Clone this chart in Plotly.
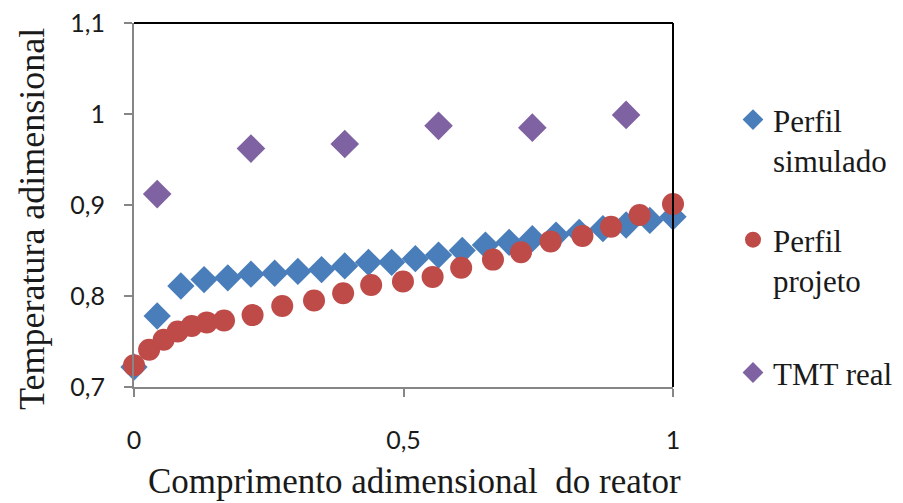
import plotly.graph_objects as go

# ---- data ----
sim_x = [0, 0.043, 0.087, 0.130, 0.174, 0.217, 0.261, 0.304, 0.348, 0.391, 0.435, 0.478,
         0.522, 0.565, 0.609, 0.652, 0.696, 0.739, 0.783, 0.826, 0.870, 0.913, 0.957, 1.0]
sim_y = [0.722, 0.778, 0.811, 0.818, 0.820, 0.824, 0.825, 0.827, 0.829, 0.833, 0.837, 0.837,
         0.841, 0.845, 0.850, 0.856, 0.859, 0.863, 0.867, 0.870, 0.874, 0.878, 0.883, 0.887]

proj_x = [0, 0.028, 0.055, 0.081, 0.107, 0.135, 0.167, 0.220, 0.275, 0.334, 0.388, 0.440,
          0.499, 0.554, 0.607, 0.666, 0.718, 0.773, 0.832, 0.885, 0.938, 1.0]
proj_y = [0.724, 0.741, 0.752, 0.761, 0.767, 0.771, 0.773, 0.779, 0.789, 0.795, 0.803, 0.812,
          0.816, 0.821, 0.831, 0.840, 0.848, 0.860, 0.866, 0.876, 0.889, 0.901]

tmt_x = [0.043, 0.217, 0.391, 0.565, 0.739, 0.913]
tmt_y = [0.912, 0.962, 0.967, 0.987, 0.985, 0.999]

names = ["Perfil<br>simulado", "Perfil<br>projeto", "TMT real"]
x_title = "Comprimento adimensional\u00a0\u00a0do reator"
y_title = "Temperatura adimensional"

BLUE = "#4A7EBB"
RED = "#BE4B48"
PURPLE = "#7F62A1"
SERIF = "Liberation Serif, Times New Roman, serif"
SANS = "Lato, Carlito, Calibri, sans-serif"
TXT = "#1a1a1a"

fig = go.Figure()
fig.add_trace(go.Scatter(x=sim_x, y=sim_y, mode="markers", name=names[0], legend="legend",
                         marker=dict(symbol="diamond", size=21, color=BLUE, line=dict(width=0)),
                         cliponaxis=False))
fig.add_trace(go.Scatter(x=proj_x, y=proj_y, mode="markers", name=names[1], legend="legend2",
                         marker=dict(symbol="circle", size=22, color=RED, line=dict(width=0)),
                         cliponaxis=False))
fig.add_trace(go.Scatter(x=tmt_x, y=tmt_y, mode="markers", name=names[2], legend="legend3",
                         marker=dict(symbol="diamond", size=22, color=PURPLE, line=dict(width=0)),
                         cliponaxis=False))

axis_common = dict(showgrid=False, zeroline=False, showline=True, linecolor="#868686", linewidth=2,
                   ticks="outside", ticklen=8, tickwidth=2, tickcolor="#868686",
                   tickfont=dict(family=SANS, size=25, color=TXT))

DOM = 539 / 769  # plot width fraction of paper (paper = 903 - 134)
fig.update_xaxes(range=[0, 1], dtick=0.5, tick0=0, ticklabelstandoff=22, domain=[0, DOM],
                 **axis_common)
fig.update_yaxes(range=[0.7, 1.1], dtick=0.1, tick0=0.7, ticklabelstandoff=14, **axis_common)

LEG_X = (733 - 134) / 769
leg_common = dict(x=LEG_X, xanchor="left", yanchor="top", valign="top",
                  font=dict(family=SERIF, size=31, color=TXT), bgcolor="rgba(0,0,0,0)")

fig.update_layout(
    width=903, height=503,
    margin=dict(l=134, r=0, t=23, b=116, autoexpand=False),
    plot_bgcolor="white", paper_bgcolor="white",
    separators=",.",
    showlegend=True,
    legend=dict(y=0.808, **leg_common),
    legend2=dict(y=0.478, **leg_common),
    legend3=dict(y=0.113, **leg_common),
    shapes=[
        dict(type="line", xref="x domain", yref="y domain", x0=0, x1=1, y0=1, y1=1,
             line=dict(color="black", width=2)),
        dict(type="line", xref="x domain", yref="y domain", x0=1, x1=1, y0=0, y1=1,
             line=dict(color="black", width=2)),
    ],
    annotations=[
        dict(text=x_title, xref="paper", yref="paper", x=(414 - 134) / 769, y=0, xanchor="center",
             yanchor="middle", yshift=-94, showarrow=False,
             font=dict(family=SERIF, size=35, color=TXT)),
        dict(text=y_title, xref="paper", yref="paper", x=0, y=0.4615, xanchor="center",
             yanchor="middle", xshift=-102, textangle=-90, showarrow=False,
             font=dict(family=SERIF, size=36, color=TXT)),
    ],
)

fig.write_html("out.html")
